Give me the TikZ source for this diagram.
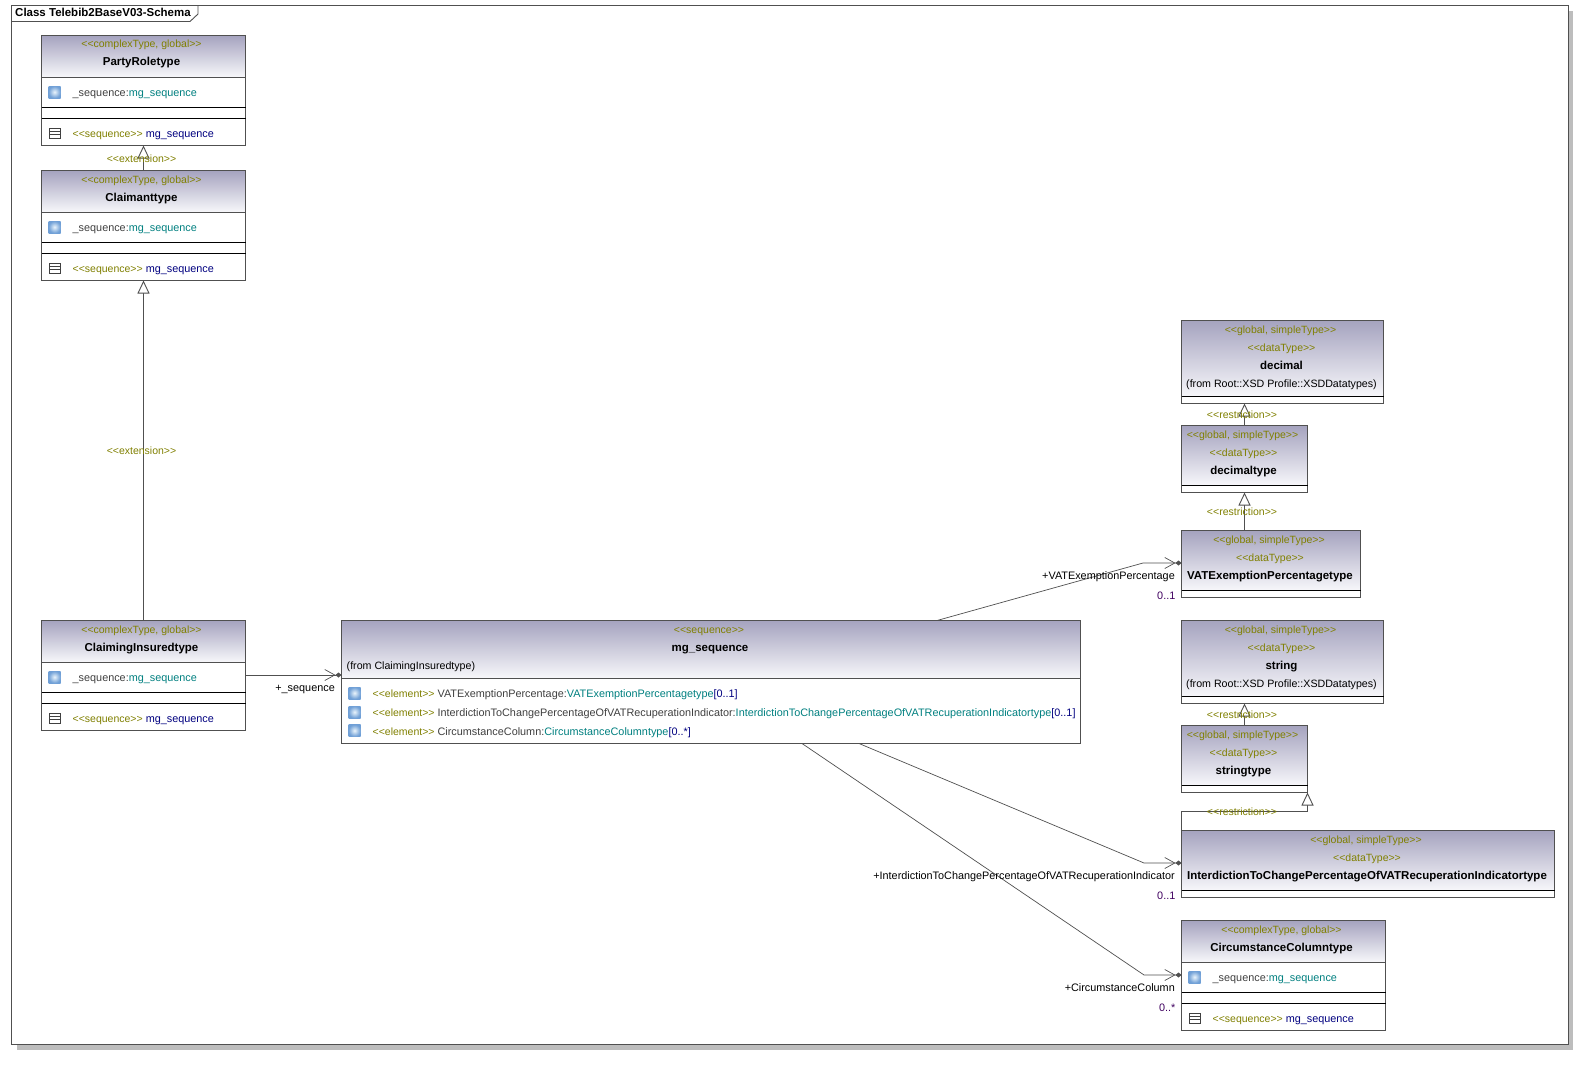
\documentclass[tikz,border=0pt]{standalone}
\usepackage{fontspec}
\usepackage{tikz}
\usetikzlibrary{arrows.meta}
\newfontfamily\umlfont{Liberation Sans}
\definecolor{edgegray}{HTML}{505050}
\definecolor{shadowgray}{HTML}{BDBDBD}
\definecolor{headtop}{HTML}{A5A3BF}
\definecolor{headlow}{HTML}{F7F7FA}
\definecolor{stereoolive}{HTML}{808000}
\definecolor{typeteal}{HTML}{008080}
\definecolor{seqnavy}{HTML}{000080}
\definecolor{multpurple}{HTML}{400060}
\definecolor{iconblue}{HTML}{6F9FD6}
\definecolor{iconpale}{HTML}{EAF4FB}
\newcommand{\stereo}[1]{{\fontsize{10.5}{13}\selectfont\textcolor{stereoolive}{<{}<#1>{}>}}}
\newcommand{\typed}[1]{\textcolor{typeteal}{#1}}
\newcommand{\seqname}[1]{\textcolor{seqnavy}{#1}}
\tikzset{
  classbox/.style={draw=edgegray,fill=white,line width=0.9pt,inner sep=0pt,outer sep=0pt,anchor=north west},
  headbox/.style={draw=edgegray,line width=0.9pt,inner sep=0pt,outer sep=0pt,anchor=north west,top color=headtop,bottom color=headlow},
  rule/.style={draw=black,line width=0.8pt},
  txt/.style={inner sep=0pt,font=\umlfont\fontsize{10.85}{13}\selectfont},
  ltxt/.style={txt,anchor=base west},
  rtxt/.style={txt,anchor=base east,text=black},
  fromtxt/.style={inner sep=0pt,anchor=base,text=black,font=\umlfont\fontsize{10.65}{13}\selectfont},
  btxt/.style={txt,anchor=base,font=\umlfont\bfseries\fontsize{11.5}{13}\selectfont},
  stereotxt/.style={txt,anchor=base,text=stereoolive},
  inherit/.style={draw=edgegray,line width=0.9pt,-{Triangle[open,fill=white,length=13pt,width=12pt]}},
  assoc/.style={draw=edgegray,line width=0.7pt,-{Straight Barb[length=10pt,width=11pt,line width=0.7pt]Diamond[length=6pt,width=5pt,sep=0pt,fill=edgegray]}},
  attricon/.style={inner color=iconpale,outer color=iconblue,draw=none},
}
\begin{document}
\begin{tikzpicture}[x=1pt,y=-1pt]
  \useasboundingbox (0,0) rectangle (1595,1065);
  % page frame
  \fill[white] (0,0) rectangle (1595,1065);
  \fill[shadowgray] (17,11) rectangle (1573,1050);
  \draw[edgegray,fill=white,line width=0.9pt] (11.5,5.5) rectangle (1568,1044);
  \draw[edgegray,line width=0.9pt] (11.5,21.5) -- (190,21.5) -- (198,14) -- (198,5.5);
  \node[btxt,anchor=base west,text=black] (frametitle) at (15,17) {Class Telebib2BaseV03-Schema};

  % complex types
  \foreach \nm/\xa/\ya/\boxw/\title in {party/41.5/35.5/204/PartyRoletype,
      claimant/41.5/170.5/204/Claimanttype,
      insured/41.5/620.5/204/ClaimingInsuredtype,
      column/1181.5/920.5/204/CircumstanceColumntype} {
    \node[classbox,minimum width=\boxw pt,minimum height=110pt] (\nm) at (\xa,\ya) {};
    \node[headbox,minimum width=\boxw pt,minimum height=41.5pt] (\nm head) at (\xa,\ya) {};
    \draw[rule] ([yshift=-71.5pt]\nm.north west) -- ([yshift=-71.5pt]\nm.north east);
    \draw[rule] ([yshift=-82.5pt]\nm.north west) -- ([yshift=-82.5pt]\nm.north east);
    \node[stereotxt] (\nm stereo) at ([yshift=-12.5pt,xshift=-2pt]\nm.north) {\stereo{complexType, global}};
    \node[btxt] (\nm title) at ([yshift=-30.5pt,xshift=-2pt]\nm.north) {\title};
    \shade[attricon] ([shift={(7,50.5)}]\nm.north west) rectangle ([shift={(19,62.5)}]\nm.north west);
    \node[ltxt,text=black!75] (\nm attr) at ([shift={(31,60.5)}]\nm.north west) {\_sequence:\typed{mg\_sequence}};
    \draw[black!75,line width=0.7pt,fill=white] ([shift={(8,92.5)}]\nm.north west) rectangle ([shift={(19,102.5)}]\nm.north west);
    \draw[black!75,line width=0.7pt] ([shift={(8,95.8)}]\nm.north west) -- ([shift={(19,95.8)}]\nm.north west);
    \draw[black!75,line width=0.7pt] ([shift={(8,99.2)}]\nm.north west) -- ([shift={(19,99.2)}]\nm.north west);
    \node[ltxt] (\nm seq) at ([shift={(31,101.7)}]\nm.north west) {\stereo{sequence} \seqname{mg\_sequence}};
  }

  % simple types
  \foreach \nm/\xa/\ya/\boxw/\boxh/\title in {decimal/1181.5/320.5/202/83/decimal,
      decimaltype/1181.5/425.5/126/67/decimaltype,
      vattype/1181.5/530.5/179/67/VATExemptionPercentagetype,
      string/1181.5/620.5/202/83/string,
      stringtype/1181.5/725.5/126/67/stringtype,
      interdict/1181.5/830.5/373/67/InterdictionToChangePercentageOfVATRecuperationIndicatortype} {
    \node[classbox,minimum width=\boxw pt,minimum height=\boxh pt] (\nm) at (\xa,\ya) {};
    \node[headbox,minimum width=\boxw pt,minimum height=\boxh pt - 7pt] (\nm head) at (\xa,\ya) {};
    \draw[rule] (\nm head.south west) -- (\nm head.south east);
    \node[stereotxt] (\nm stereo) at ([yshift=-12.5pt,xshift=-2pt]\nm.north) {\stereo{global, simpleType}};
    \node[stereotxt] (\nm data) at ([yshift=-30.5pt,xshift=-1pt]\nm.north) {\stereo{dataType}};
    \node[btxt] (\nm title) at ([yshift=-48.5pt,xshift=-1pt]\nm.north) {\title};
  }
  \node[fromtxt] (decimalfrom) at ([yshift=-66.5pt,xshift=-1pt]decimal.north) {(from Root::XSD Profile::XSDDatatypes)};
  \node[fromtxt] (stringfrom) at ([yshift=-66.5pt,xshift=-1pt]string.north) {(from Root::XSD Profile::XSDDatatypes)};

  % the sequence
  \node[classbox,minimum width=739pt,minimum height=123pt] (seq) at (341.5,620.5) {};
  \node[headbox,minimum width=739pt,minimum height=57.5pt] (seqhead) at (341.5,620.5) {};
  \node[stereotxt] (seqstereo) at ([yshift=-12.5pt,xshift=-2pt]seq.north) {\stereo{sequence}};
  \node[btxt] (seqtitle) at ([yshift=-30.5pt,xshift=-1pt]seq.north) {mg\_sequence};
  \node[fromtxt,anchor=base west] (seqfrom) at ([shift={(5,48.5)}]seq.north west) {(from ClaimingInsuredtype)};
  \foreach \i/\yy in {1/66.5,2/85.5,3/104} {
    \shade[attricon] ([shift={(7,\yy)}]seq.north west) rectangle ([shift={(19,\yy+12)}]seq.north west);
  }
  \node[ltxt,text=black!75] (elema) at ([shift={(31,76.5)}]seq.north west) {\stereo{element} VATExemptionPercentage:\typed{VATExemptionPercentagetype}\seqname{[0..1]}};
  \node[ltxt,text=black!75] (elemb) at ([shift={(31,95.5)}]seq.north west) {\stereo{element} InterdictionToChangePercentageOfVATRecuperationIndicator:\typed{InterdictionToChangePercentageOfVATRecuperationIndicatortype}\seqname{[0..1]}};
  \node[ltxt,text=black!75] (elemc) at ([shift={(31,114.5)}]seq.north west) {\stereo{element} CircumstanceColumn:\typed{CircumstanceColumntype}\seqname{[0..*]}};

  % extension and restriction
  \draw[inherit] (claimant.north) -- (party.south);
  \draw[inherit] (insured.north) -- (claimant.south);
  \draw[inherit] (decimaltype.north) -- (decimaltype.north |- decimal.south);
  \draw[inherit] (vattype.north -| decimaltype.south) -- (decimaltype.south);
  \draw[inherit] (stringtype.north) -- (stringtype.north |- string.south);
  \coordinate (bendleft) at (1181.5,811.5);
  \coordinate (bendright) at (stringtype.south east |- bendleft);
  \draw[inherit] (interdict.north west) -- (bendleft) -- (bendright) -- (stringtype.south east);
  \node[stereotxt] (extupper) at (141.5,162) {\stereo{extension}};
  \node[stereotxt] (extlower) at (141.5,454) {\stereo{extension}};
  \node[stereotxt] (resa) at (1242,418) {\stereo{restriction}};
  \node[stereotxt] (resb) at (1242,515) {\stereo{restriction}};
  \node[stereotxt] (resc) at (1242,718) {\stereo{restriction}};
  \node[stereotxt] (resd) at (1242,815) {\stereo{restriction}};

  % associations
  \coordinate (vatbend) at (1143,563);
  \coordinate (intbend) at (1144,863);
  \coordinate (colbend) at (1144,975);
  \draw[assoc] (insured.east |- 0,675) -- (seq.west |- 0,675);
  \draw[assoc] (937,620.5) -- (vatbend) -- (vattype.west |- vatbend);
  \draw[assoc] (859,743.5) -- (intbend) -- (interdict.west |- intbend);
  \draw[assoc] (802,743.5) -- (colbend) -- (column.west |- colbend);
  \node[rtxt] (seqrole) at (335,691) {+\_sequence};
  \node[rtxt] (vatrole) at (1175,579) {+VATExemptionPercentage};
  \node[rtxt,text=multpurple] (vatmult) at (1175.5,599) {0..1};
  \node[rtxt] (introle) at (1175,879) {+InterdictionToChangePercentageOfVATRecuperationIndicator};
  \node[rtxt,text=multpurple] (intmult) at (1175.5,899) {0..1};
  \node[rtxt] (colrole) at (1175,991) {+CircumstanceColumn};
  \node[rtxt,text=multpurple] (colmult) at (1175.5,1011) {0..*};
\end{tikzpicture}
\end{document}
